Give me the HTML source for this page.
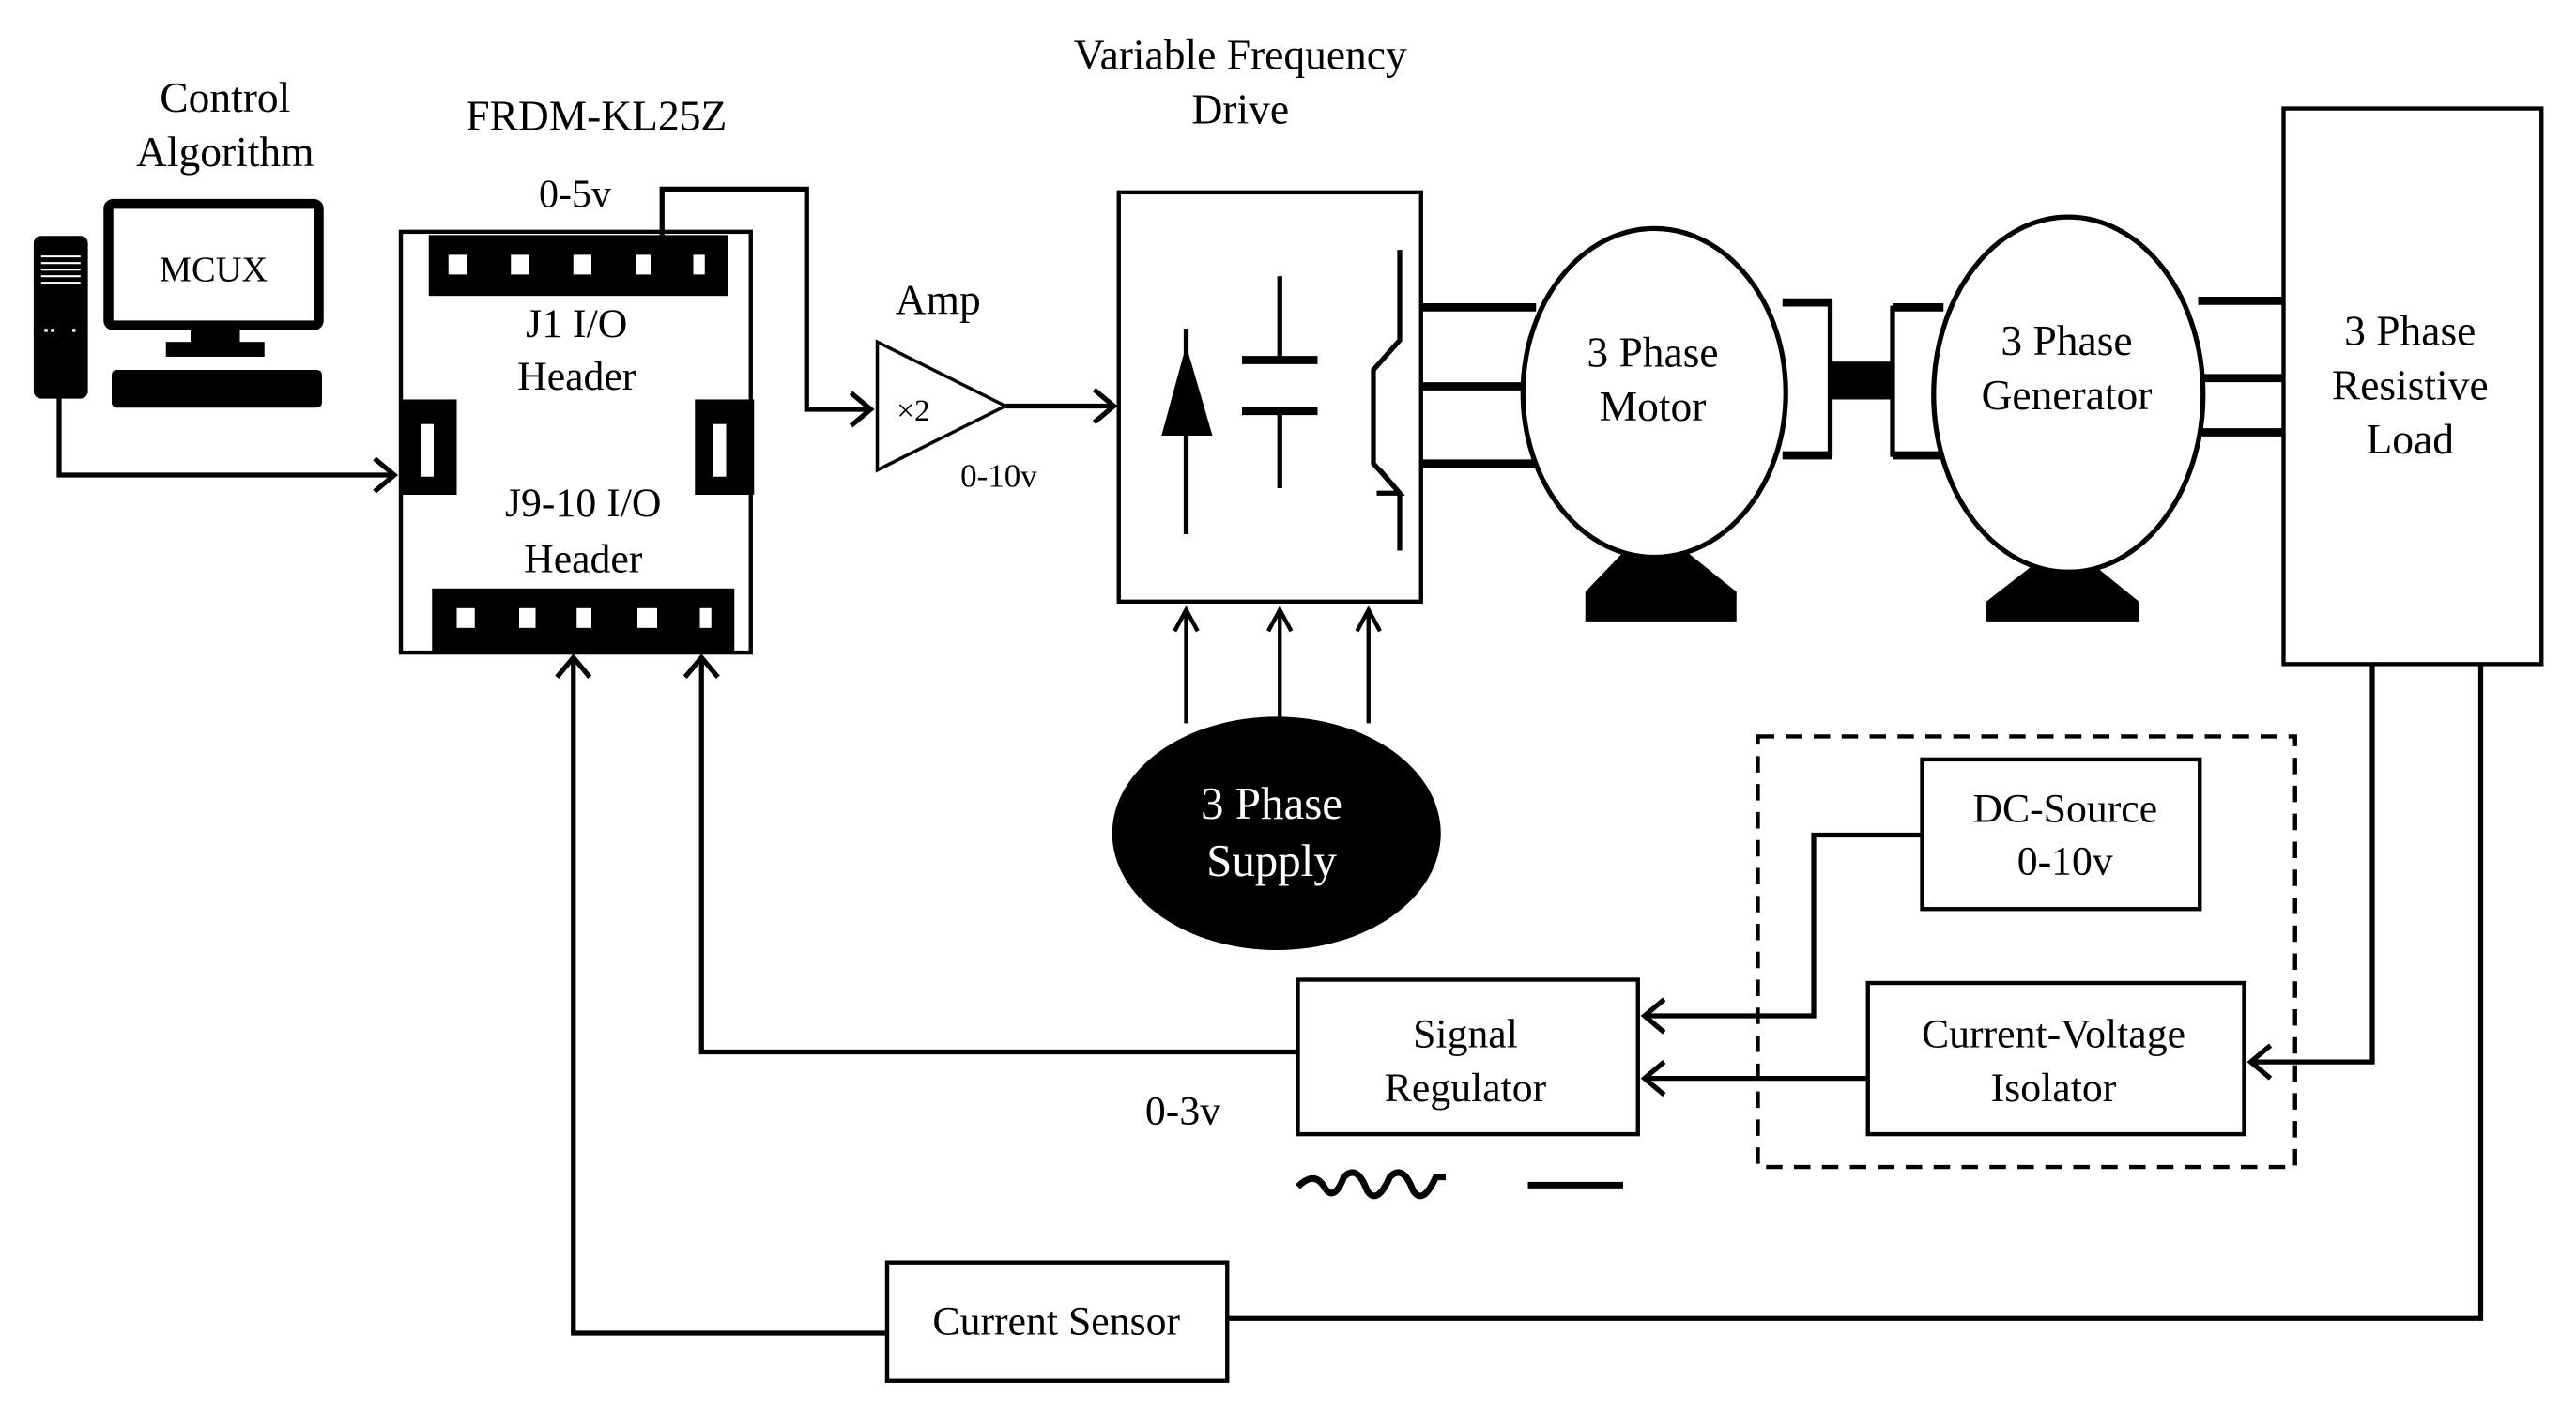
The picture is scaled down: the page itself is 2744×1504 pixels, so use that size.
<!DOCTYPE html>
<html><head><style>html,body{margin:0;padding:0;background:#fff}svg{display:block}text{font-family:"Liberation Serif",serif}</style></head><body>
<svg width="2744" height="1504" viewBox="0 0 1568 859" preserveAspectRatio="none" xmlns="http://www.w3.org/2000/svg" fill="none" stroke="#000">
<g stroke-width="3">
<!-- computer -->
<rect x="22" y="145" width="30" height="96" rx="3" fill="#000"/>
<g stroke="#fff" stroke-width="1.2"><line x1="25" y1="156" x2="49" y2="156"/><line x1="25" y1="160" x2="49" y2="160"/><line x1="25" y1="164" x2="49" y2="164"/><line x1="25" y1="168" x2="49" y2="168"/><line x1="25" y1="172" x2="49" y2="172"/></g>
<rect x="27" y="200" width="2" height="2" fill="#fff" stroke="none"/><rect x="31" y="200" width="2" height="2" fill="#fff" stroke="none"/><rect x="44" y="200" width="2" height="2" fill="#fff" stroke="none"/>
<rect x="66" y="124" width="128" height="74" rx="3" stroke-width="6"/>
<rect x="116" y="198" width="30" height="12" fill="#000" stroke="none"/>
<rect x="101" y="208" width="60" height="9" fill="#000" stroke="none"/>
<rect x="68" y="225" width="128" height="23" rx="3" fill="#000" stroke="none"/>
<polyline points="36,241 36,289 240,289"/>
<polyline points="228,279 240,289 228,299"/>
<!-- board -->
<rect x="244" y="141" width="213" height="256" stroke-width="2.5"/>
<rect x="261" y="143" width="182" height="37" fill="#000" stroke="none"/>
<g fill="#fff" stroke="none"><rect x="273" y="155" width="11" height="12"/><rect x="311" y="155" width="11" height="12"/><rect x="349" y="155" width="11" height="12"/><rect x="387" y="155" width="9" height="12"/><rect x="422" y="155" width="7" height="12"/></g>
<rect x="263" y="358" width="184" height="39" fill="#000" stroke="none"/>
<g fill="#fff" stroke="none"><rect x="278" y="370" width="11" height="12"/><rect x="316" y="370" width="10" height="12"/><rect x="351" y="370" width="9" height="12"/><rect x="388" y="370" width="12" height="12"/><rect x="426" y="370" width="7" height="12"/></g>
<rect x="244" y="243" width="34" height="58" fill="#000" stroke="none"/>
<rect x="256" y="258" width="8" height="32" fill="#fff" stroke="none"/>
<rect x="423" y="243" width="36" height="58" fill="#000" stroke="none"/>
<rect x="434" y="258" width="8" height="32" fill="#fff" stroke="none"/>
<polyline points="403,143 403,115 491,115 491,249 530,249"/>
<polyline points="518,239 530,249 518,259"/>
<!-- amp -->
<polygon points="534,208 534,286 612,247" stroke-width="2"/>
<line x1="612" y1="247" x2="678" y2="247"/>
<polyline points="666,237 678,247 666,257"/>
<!-- vfd -->
<rect x="681" y="117" width="184" height="249" stroke-width="2.5"/>
<line x1="722" y1="200" x2="722" y2="325"/>
<polygon points="707,265 738,265 722,210" fill="#000" stroke="none"/>
<line x1="779" y1="168" x2="779" y2="219"/><line x1="756" y1="219" x2="802" y2="219" stroke-width="5"/>
<line x1="756" y1="250" x2="802" y2="250" stroke-width="5"/><line x1="779" y1="250" x2="779" y2="297"/>
<polyline points="852,152 852,207 836,225 836,282 852,300 852,335"/>
<polyline points="840,286 852,300 838,300"/>
<g stroke-width="5"><line x1="865" y1="187" x2="935" y2="187"/><line x1="865" y1="235" x2="928" y2="235"/><line x1="865" y1="282" x2="935" y2="282"/></g>
<!-- supply arrows -->
<g stroke-width="2.5">
<line x1="722" y1="440" x2="722" y2="371"/><polyline points="715,384 722,371 729,384"/>
<line x1="779" y1="440" x2="779" y2="371"/><polyline points="772,384 779,371 786,384"/>
<line x1="833" y1="440" x2="833" y2="371"/><polyline points="826,384 833,371 840,384"/>
</g>
<ellipse cx="777" cy="507" rx="100" ry="71" fill="#000" stroke="none"/>
<!-- motor -->
<polygon points="988,336 1027,336 1057,360 1057,378 965,378 965,360" fill="#000" stroke="none"/>
<ellipse cx="1007" cy="239" rx="80" ry="100" fill="#fff"/>
<g stroke-width="5"><line x1="1085" y1="184" x2="1115" y2="184"/><line x1="1085" y1="277" x2="1115" y2="277"/><line x1="1152" y1="187" x2="1183" y2="187"/><line x1="1152" y1="277" x2="1183" y2="277"/></g>
<line x1="1114" y1="183" x2="1114" y2="278"/>
<line x1="1152" y1="186" x2="1152" y2="278"/>
<rect x="1113" y="220" width="40" height="23" fill="#000" stroke="none"/>
<!-- generator -->
<polygon points="1236,345 1276,345 1302,366 1302,378 1209,378 1209,366" fill="#000" stroke="none"/>
<ellipse cx="1259" cy="240" rx="82" ry="108" fill="#fff"/>
<g stroke-width="5"><line x1="1338" y1="183" x2="1391" y2="183"/><line x1="1340" y1="230" x2="1391" y2="230"/><line x1="1338" y1="263" x2="1391" y2="263"/></g>
<rect x="1390" y="66" width="157" height="338" stroke-width="2.5"/>
<!-- dashed -->
<rect x="1070" y="448" width="327" height="262" stroke-width="2.5" stroke-dasharray="10,7"/>
<rect x="1170" y="462" width="169" height="91" stroke-width="2.5"/>
<rect x="1137" y="598" width="229" height="92" stroke-width="2.5"/>
<rect x="790" y="596" width="207" height="94" stroke-width="2.5"/>
<rect x="540" y="768" width="207" height="72" stroke-width="2.5"/>
<polyline points="1170,508 1104,508 1104,618 1001,618"/><polyline points="1013,608 1001,618 1013,628"/>
<line x1="1137" y1="656" x2="1001" y2="656"/><polyline points="1013,646 1001,656 1013,666"/>
<polyline points="1444,404 1444,646 1370,646"/><polyline points="1382,636 1370,646 1382,656"/>
<polyline points="790,640 427,640 427,400"/><polyline points="417,412 427,400 437,412"/>
<polyline points="747,802 1510,802 1510,404"/>
<polyline points="540,811 349,811 349,400"/><polyline points="339,412 349,400 359,412"/>
<path d="M790,722 Q800,712 806,722 Q812,732 818,716 Q826,708 832,724 Q838,734 846,716 Q854,708 860,724 Q866,734 874,716 L880,716" stroke-width="4"/>
<line x1="930" y1="721" x2="988" y2="721" stroke-width="4"/>
</g>
<g fill="#000" stroke="none" text-anchor="middle" font-size="26">
<text x="137" y="68">Control</text><text x="137" y="101">Algorithm</text>
<text x="130" y="171" font-size="22">MCUX</text>
<text x="363" y="79">FRDM-KL25Z</text>
<text x="350" y="126" font-size="24">0-5v</text>
<text x="351" y="205" font-size="25">J1 I/O</text><text x="351" y="237" font-size="25">Header</text>
<text x="355" y="314" font-size="25">J9-10 I/O</text><text x="355" y="348" font-size="25">Header</text>
<text x="571" y="191">Amp</text>
<text x="556" y="256" font-size="19">×2</text>
<text x="608" y="296" font-size="20">0-10v</text>
<text x="755" y="42">Variable Frequency</text><text x="755" y="75">Drive</text>
<text x="1006" y="223">3 Phase</text><text x="1006" y="256">Motor</text>
<text x="1258" y="216">3 Phase</text><text x="1258" y="249">Generator</text>
<text x="1467" y="210">3 Phase</text><text x="1467" y="243">Resistive</text><text x="1467" y="276">Load</text>
<text x="774" y="498" fill="#fff" font-size="28">3 Phase</text><text x="774" y="533" fill="#fff" font-size="28">Supply</text>
<text x="1257" y="500" font-size="25">DC-Source</text><text x="1257" y="532" font-size="25">0-10v</text>
<text x="1250" y="637" font-size="25">Current-Voltage</text><text x="1250" y="670" font-size="25">Isolator</text>
<text x="892" y="637" font-size="25">Signal</text><text x="892" y="670" font-size="25">Regulator</text>
<text x="720" y="684" font-size="25">0-3v</text>
<text x="643" y="812" font-size="25">Current Sensor</text>
</g>
</svg>
</body></html>
